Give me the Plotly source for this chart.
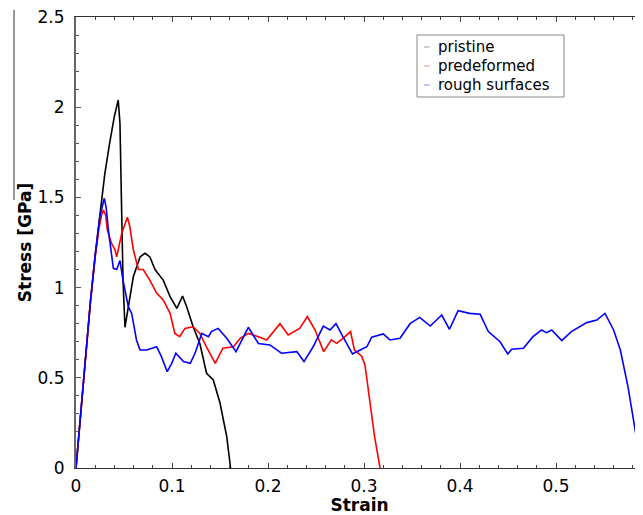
import plotly.graph_objects as go

# ---- data ----
series_names = ["pristine", "predeformed", "rough surfaces"]

pristine_strain = [0, 0.005, 0.01, 0.015, 0.02, 0.025, 0.03, 0.035, 0.04, 0.044, 0.0458, 0.0476,
                   0.049, 0.051, 0.0545, 0.0597, 0.0667, 0.0719, 0.077, 0.0823, 0.091, 0.098, 0.105,
                   0.111, 0.1153, 0.122, 0.129, 0.136, 0.143, 0.15, 0.157, 0.161]
pristine_stress = [0, 0.32, 0.63, 0.92, 1.18, 1.42, 1.63, 1.80, 1.95, 2.04, 1.91, 1.41,
                   1.04, 0.78, 0.89, 1.06, 1.17, 1.19, 1.17, 1.10, 1.04, 0.95, 0.885,
                   0.953, 0.894, 0.783, 0.69, 0.525, 0.488, 0.36, 0.174, 0.0]

predeformed_strain = [0, 0.005, 0.01, 0.015, 0.02, 0.024, 0.027, 0.0285, 0.031, 0.0326, 0.037, 0.0406,
                      0.0424, 0.0476, 0.0535, 0.056, 0.0597, 0.065, 0.07, 0.077, 0.084, 0.091, 0.098,
                      0.103, 0.108, 0.1135, 0.122, 0.129, 0.136, 0.145, 0.153, 0.164, 0.171, 0.1795,
                      0.19, 0.1986, 0.2125, 0.221, 0.233, 0.241, 0.249, 0.258, 0.266, 0.2715, 0.278,
                      0.286, 0.29, 0.2976, 0.301, 0.306, 0.311, 0.3167]
predeformed_stress = [0, 0.32, 0.63, 0.92, 1.17, 1.33, 1.41, 1.43, 1.40, 1.32, 1.245, 1.21,
                      1.17, 1.30, 1.39, 1.34, 1.21, 1.10, 1.10, 1.04, 0.97, 0.93, 0.857,
                      0.746, 0.728, 0.774, 0.783, 0.746, 0.67, 0.58, 0.664, 0.672, 0.719, 0.746,
                      0.728, 0.71, 0.80, 0.737, 0.774, 0.839, 0.765, 0.645, 0.71, 0.691, 0.719,
                      0.756, 0.654, 0.62, 0.571, 0.377, 0.174, 0.0]

rough_strain = [0, 0.005, 0.01, 0.015, 0.02, 0.025, 0.0295, 0.0315, 0.0337, 0.0389, 0.0424, 0.0458,
                0.049, 0.0545, 0.058, 0.063, 0.0667, 0.0736, 0.084, 0.089, 0.095, 0.0997, 0.104,
                0.112, 0.119, 0.124, 0.131, 0.138, 0.141, 0.148, 0.157, 0.1667, 0.1795, 0.19,
                0.202, 0.214, 0.23, 0.2375, 0.247, 0.2576, 0.2646, 0.2708, 0.278, 0.288, 0.296,
                0.303, 0.308, 0.32, 0.327, 0.3375, 0.348, 0.358, 0.369, 0.381, 0.389, 0.398,
                0.41, 0.421, 0.4295, 0.4417, 0.4497, 0.4538, 0.466, 0.476, 0.485, 0.49, 0.4955,
                0.506, 0.516, 0.532, 0.5424, 0.551, 0.56, 0.567, 0.575, 0.582, 0.589]
rough_stress = [0, 0.32, 0.63, 0.92, 1.18, 1.40, 1.495, 1.44, 1.32, 1.107, 1.10, 1.15,
                1.04, 0.894, 0.857, 0.71, 0.654, 0.654, 0.672, 0.617, 0.534, 0.58, 0.636,
                0.59, 0.58, 0.636, 0.746, 0.728, 0.756, 0.774, 0.719, 0.645, 0.78, 0.69,
                0.682, 0.636, 0.645, 0.59, 0.672, 0.787, 0.765, 0.80, 0.728, 0.632, 0.654,
                0.672, 0.725, 0.743, 0.71, 0.719, 0.80, 0.835, 0.787, 0.848, 0.769, 0.872,
                0.857, 0.852, 0.756, 0.70, 0.632, 0.658, 0.664, 0.728, 0.765, 0.75, 0.765,
                0.706, 0.756, 0.806, 0.82, 0.857, 0.765, 0.654, 0.45, 0.229, 0.0]

line_colors = ["black", "red", "blue"]
legend_colors = ["#999999", "#ff8888", "#8888ff"]

FONT = "DejaVu Sans"

fig = go.Figure()
for name, xs, ys, col in [(series_names[0], pristine_strain, pristine_stress, line_colors[0]),
                          (series_names[1], predeformed_strain, predeformed_stress, line_colors[1]),
                          (series_names[2], rough_strain, rough_stress, line_colors[2])]:
    fig.add_trace(go.Scatter(x=xs, y=ys, mode="lines", name=name,
                             line=dict(color=col, width=1.6), showlegend=False))

# hand-drawn legend box (paper coordinates)
shapes = [
    dict(type="rect", xref="paper", yref="paper", x0=0.6014, x1=0.8607, y0=0.8226, y1=0.9601,
         line=dict(color="#888888", width=1), fillcolor="white", layer="above"),
    dict(type="line", xref="paper", yref="paper", x0=-0.1093, x1=-0.1093,
         y0=0.594, y1=1.0155, line=dict(color="#555555", width=1.2)),
]
annotations = []
row_y = [0.9335, 0.8914, 0.8492]
for name, col, yy in zip(series_names, legend_colors, row_y):
    shapes.append(dict(type="line", xref="paper", yref="paper", x0=0.6138, x1=0.6235,
                       y0=yy, y1=yy, line=dict(color=col, width=1), layer="above"))
    annotations.append(dict(text=name, xref="paper", yref="paper", x=0.6349, y=yy,
                            xanchor="left", yanchor="middle", showarrow=False,
                            font=dict(size=15, family=FONT, color="black")))

fig.update_layout(
    width=635, height=507,
    margin=dict(l=68, r=0, t=9, b=47),
    paper_bgcolor="white", plot_bgcolor="white",
    font=dict(family=FONT, size=17, color="black"),
    showlegend=False,
    xaxis=dict(range=[0, 0.5906], dtick=0.1, tick0=0, showgrid=False, zeroline=False,
               showline=True, linecolor="#333333", linewidth=1.2, mirror="ticks",
               ticks="inside", ticklen=5, tickcolor="#444444", tickwidth=1,
               minor=dict(dtick=0.02, ticks="inside", ticklen=3, tickcolor="#444444", tickwidth=1),
               ticklabelstandoff=2, ticklabeloverflow="allow",
               title=dict(text="<b>Strain</b>", font=dict(size=17, family=FONT), standoff=0)),
    yaxis=dict(range=[0, 2.5], dtick=0.5, tick0=0, showgrid=False, zeroline=False,
               showline=True, linecolor="#666666", linewidth=2,
               ticks="inside", ticklen=5, tickcolor="#555555", tickwidth=1,
               minor=dict(dtick=0.1, ticks="inside", ticklen=3, tickcolor="#555555", tickwidth=1),
               ticklabelstandoff=6, ticklabeloverflow="allow",
               title=dict(text="<b>Stress [GPa]</b>", font=dict(size=17, family=FONT), standoff=2)),
    shapes=shapes,
    annotations=annotations,
)

fig.write_html("out.html")
